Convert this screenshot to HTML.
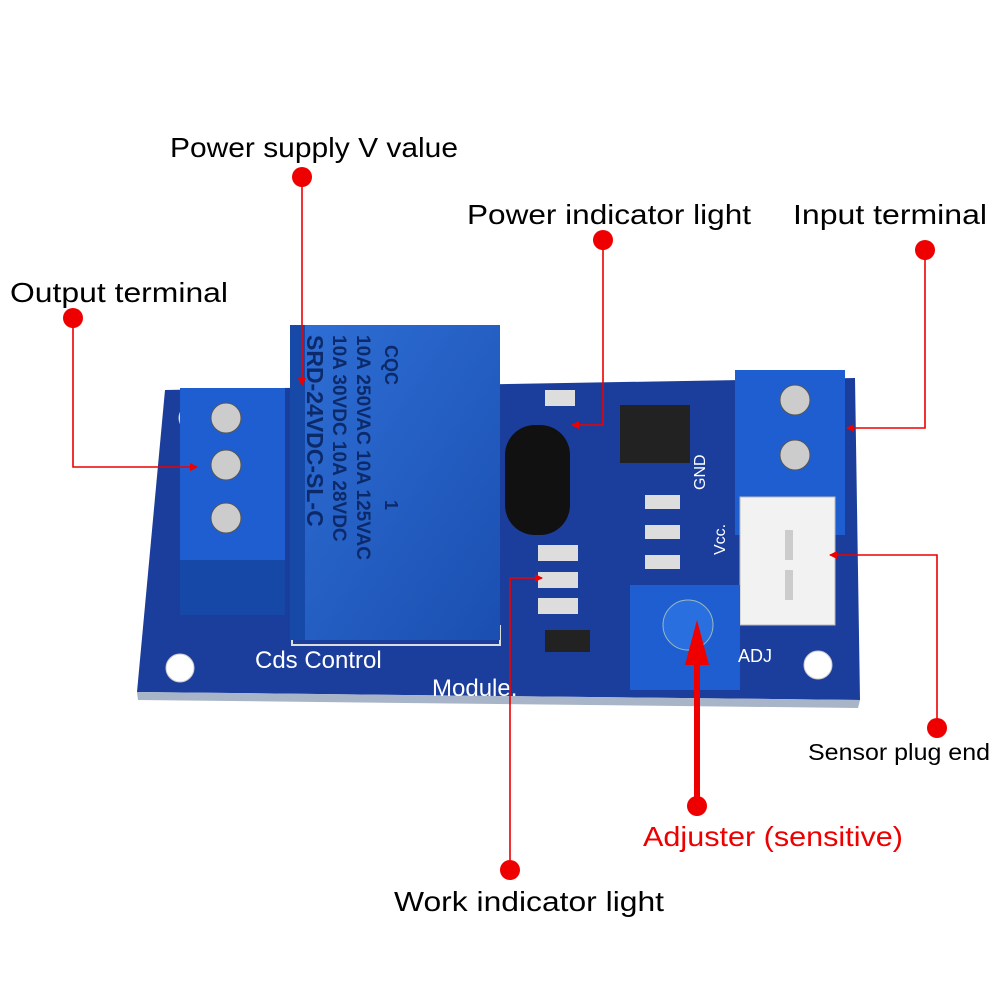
<!DOCTYPE html>
<html><head><meta charset="utf-8"><style>
html,body{margin:0;padding:0;background:#fff;}
svg{display:block}
text{font-family:"Liberation Sans",sans-serif;}
</style></head><body>
<svg width="1000" height="1000" viewBox="0 0 1000 1000" xmlns="http://www.w3.org/2000/svg">
<defs>
<marker id="ar" markerWidth="8" markerHeight="8" refX="7" refY="4" orient="auto" markerUnits="userSpaceOnUse"><path d="M0,0 L8,4 L0,8 z" fill="#e00"/></marker>
<linearGradient id="rel" x1="0" y1="0" x2="1" y2="1"><stop offset="0" stop-color="#2f6fd6"/><stop offset="1" stop-color="#1a4fb0"/></linearGradient>
</defs>
<!-- board -->
<path d="M165,390 L855,378 L860,700 L137,692 Z" fill="#1b3d9c"/>
<path d="M137,692 L860,700 L858,708 L138,700 Z" fill="#a8b4c8"/>
<circle cx="192" cy="418" r="13" fill="#fff" stroke="#ccc"/>
<circle cx="180" cy="668" r="14" fill="#fff" stroke="#ccc"/>
<circle cx="818" cy="665" r="14" fill="#fff" stroke="#ccc"/>
<circle cx="830" cy="405" r="12" fill="#fff"/>
<path d="M292,625 L292,645 L500,645 L500,625" stroke="#ddd" stroke-width="2" fill="none"/>
<!-- left terminal -->
<rect x="180" y="388" width="105" height="225" fill="#1f5ed0"/>
<rect x="180" y="560" width="105" height="55" fill="#1648a8"/>
<circle cx="226" cy="418" r="15" fill="#ccc" stroke="#555"/>
<circle cx="226" cy="465" r="15" fill="#ccc" stroke="#555"/>
<circle cx="226" cy="518" r="15" fill="#ccc" stroke="#555"/>
<!-- relay -->
<rect x="290" y="325" width="210" height="315" fill="url(#rel)"/>
<rect x="290" y="325" width="15" height="315" fill="#174aa8"/>
<text transform="translate(307,335) rotate(90)" font-size="23" fill="#0c2a6a" font-weight="bold">SRD-24VDC-SL-C</text>
<text transform="translate(333,335) rotate(90)" font-size="19" fill="#0c2a6a" font-weight="bold">10A 30VDC 10A 28VDC</text>
<text transform="translate(357,335) rotate(90)" font-size="19" fill="#0c2a6a" font-weight="bold">10A 250VAC 10A 125VAC</text>
<text transform="translate(385,345) rotate(90)" font-size="18" fill="#0c2a6a" font-weight="bold">CQC</text>
<text transform="translate(385,500) rotate(90)" font-size="18" fill="#0c2a6a" font-weight="bold">1</text>
<!-- capacitor -->
<rect x="505" y="425" width="65" height="110" rx="30" fill="#111"/>
<!-- chip -->
<rect x="620" y="405" width="70" height="58" fill="#222"/>
<!-- right terminal -->
<rect x="735" y="370" width="110" height="165" fill="#1f5ed0"/>
<circle cx="795" cy="400" r="15" fill="#ccc" stroke="#555"/>
<circle cx="795" cy="455" r="15" fill="#ccc" stroke="#555"/>
<!-- JST -->
<rect x="740" y="497" width="95" height="128" fill="#f2f2f2" stroke="#bbb"/>
<rect x="785" y="530" width="8" height="30" fill="#ccc"/>
<rect x="785" y="570" width="8" height="30" fill="#ccc"/>
<!-- pot -->
<rect x="630" y="585" width="110" height="105" fill="#1f5ed0"/>
<circle cx="688" cy="625" r="25" fill="#2a6fe0" stroke="#9bb"/>
<!-- small parts -->
<rect x="538" y="545" width="40" height="16" fill="#ddd"/>
<rect x="538" y="572" width="40" height="16" fill="#ddd"/>
<rect x="538" y="598" width="40" height="16" fill="#ddd"/>
<rect x="545" y="630" width="45" height="22" fill="#222"/>
<rect x="545" y="390" width="30" height="16" fill="#ddd"/>
<rect x="645" y="495" width="35" height="14" fill="#ddd"/>
<rect x="645" y="525" width="35" height="14" fill="#ddd"/>
<rect x="645" y="555" width="35" height="14" fill="#ddd"/>
<text x="255" y="668" font-size="24" fill="#fff" font-family="Liberation Mono">Cds Control</text>
<text x="432" y="696" font-size="24" fill="#fff" font-family="Liberation Mono">Module.</text>
<text transform="translate(705,490) rotate(-90)" font-size="16" fill="#fff">GND</text>
<text transform="translate(725,555) rotate(-90)" font-size="16" fill="#fff">Vcc.</text>
<text x="738" y="662" font-size="18" fill="#fff">ADJ</text>
<!-- connectors -->
<g stroke="#e00" stroke-width="1.6" fill="none">
<path d="M302,177 L302,385" marker-end="url(#ar)"/>
<path d="M603,240 L603,425 L572,425" marker-end="url(#ar)"/>
<path d="M925,250 L925,428 L847,428" marker-end="url(#ar)"/>
<path d="M73,318 L73,467 L197,467" marker-end="url(#ar)"/>
<path d="M937,728 L937,555 L830,555" marker-end="url(#ar)"/>
<path d="M510,870 L510,578 L542,578" marker-end="url(#ar)"/>
</g>
<line x1="697" y1="806" x2="697" y2="660" stroke="#e00" stroke-width="6"/>
<path d="M685,665 L697,620 L709,665 Z" fill="#e00"/>
<g fill="#e00">
<circle cx="302" cy="177" r="10"/><circle cx="603" cy="240" r="10"/><circle cx="925" cy="250" r="10"/>
<circle cx="73" cy="318" r="10"/><circle cx="937" cy="728" r="10"/><circle cx="697" cy="806" r="10"/><circle cx="510" cy="870" r="10"/>
</g>
<g font-size="28" fill="#000">
<text x="170" y="157" textLength="288" lengthAdjust="spacingAndGlyphs">Power supply V value</text>
<text x="467" y="224" textLength="284" lengthAdjust="spacingAndGlyphs">Power indicator light</text>
<text x="793" y="224" textLength="194" lengthAdjust="spacingAndGlyphs">Input terminal</text>
<text x="10" y="302" textLength="218" lengthAdjust="spacingAndGlyphs">Output terminal</text>
<text x="394" y="911" textLength="270" lengthAdjust="spacingAndGlyphs">Work indicator light</text>
<text x="643" y="846" fill="#e00" textLength="260" lengthAdjust="spacingAndGlyphs">Adjuster (sensitive)</text>
<text x="808" y="760" font-size="23" textLength="182" lengthAdjust="spacingAndGlyphs">Sensor plug end</text>
</g>
</svg>
</body></html>
